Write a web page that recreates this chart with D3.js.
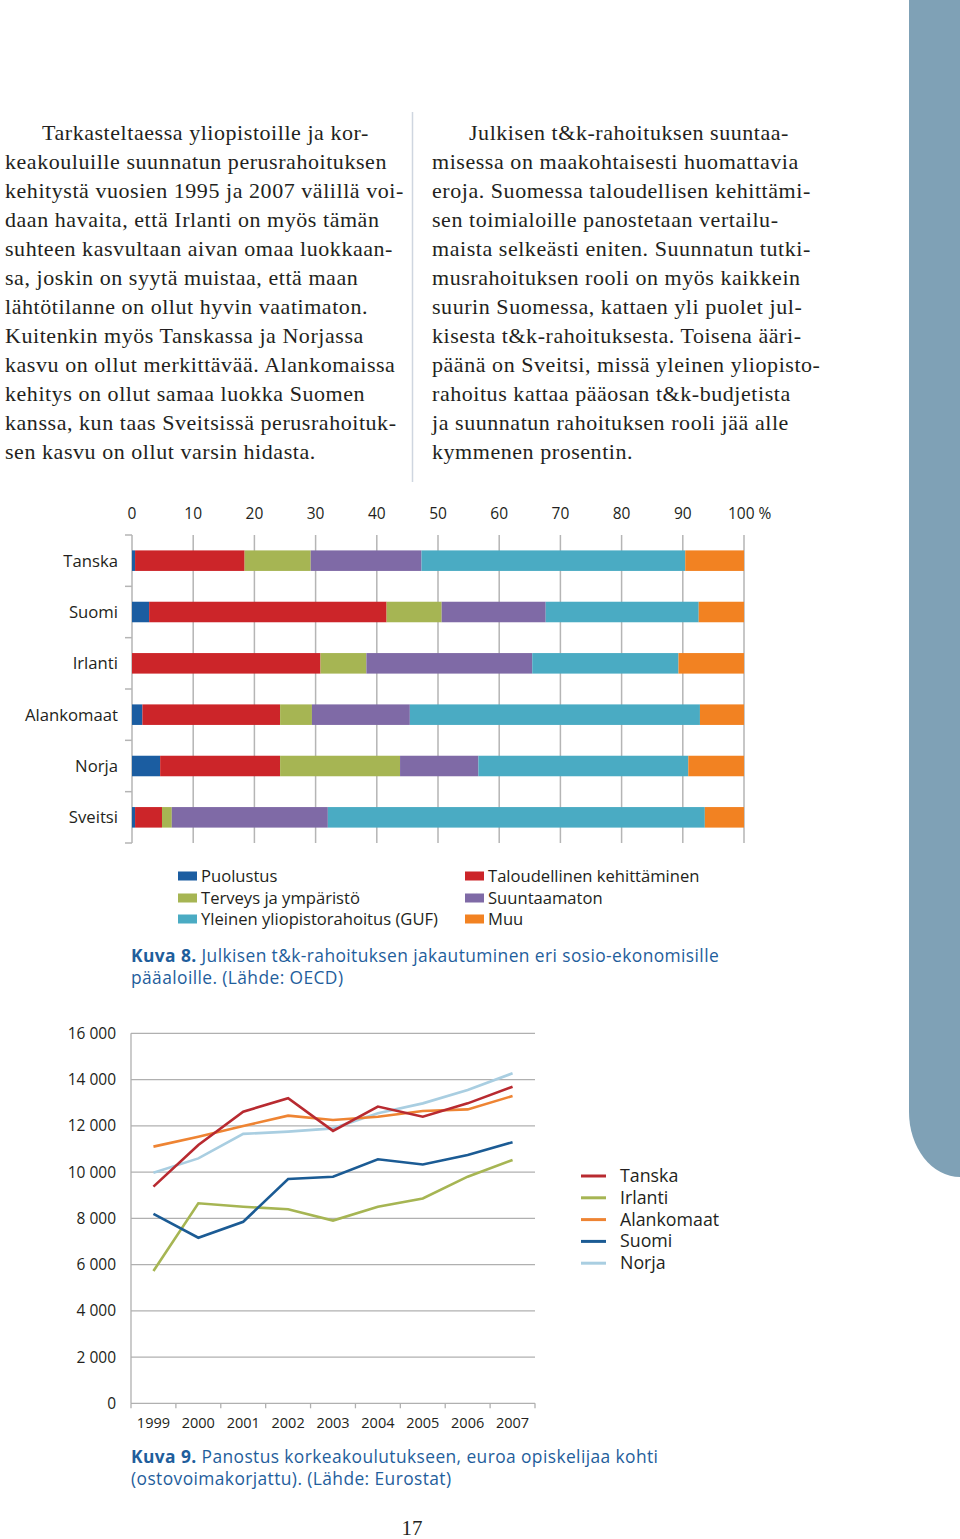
<!DOCTYPE html>
<html><head><meta charset="utf-8">
<script src="https://cdn.jsdelivr.net/npm/d3@7"></script>
<style>
html,body{margin:0;padding:0;background:#fff;}
svg{display:block;}
</style></head>
<body>
<svg id="c" width="960" height="1539"></svg>
<script>
// ---------- DATA ----------
const leftText = [
"Tarkasteltaessa yliopistoille ja kor-",
"keakouluille suunnatun perusrahoituksen",
"kehitystä vuosien 1995 ja 2007 välillä voi-",
"daan havaita, että Irlanti on myös tämän",
"suhteen kasvultaan aivan omaa luokkaan-",
"sa, joskin on syytä muistaa, että maan",
"lähtötilanne on ollut hyvin vaatimaton.",
"Kuitenkin myös Tanskassa ja Norjassa",
"kasvu on ollut merkittävää. Alankomaissa",
"kehitys on ollut samaa luokka Suomen",
"kanssa, kun taas Sveitsissä perusrahoituk-",
"sen kasvu on ollut varsin hidasta."];
const rightText = [
"Julkisen t&k-rahoituksen suuntaa-",
"misessa on maakohtaisesti huomattavia",
"eroja. Suomessa taloudellisen kehittämi-",
"sen toimialoille panostetaan vertailu-",
"maista selkeästi eniten. Suunnatun tutki-",
"musrahoituksen rooli on myös kaikkein",
"suurin Suomessa, kattaen yli puolet jul-",
"kisesta t&k-rahoituksesta. Toisena ääri-",
"päänä on Sveitsi, missä yleinen yliopisto-",
"rahoitus kattaa pääosan t&k-budjetista",
"ja suunnatun rahoituksen rooli jää alle",
"kymmenen prosentin."];

// Bar chart (Kuva 8)
const barCountries = ["Tanska","Suomi","Irlanti","Alankomaat","Norja","Sveitsi"];
const barSeriesNames = ["Puolustus","Taloudellinen kehittäminen","Terveys ja ympäristö","Suuntaamaton","Yleinen yliopistorahoitus (GUF)","Muu"];
const puolustus     = [0.5, 2.8, 0.0, 1.7, 4.6, 0.5];
const taloudellinen = [17.9, 38.8, 30.8, 22.5, 19.6, 4.4];
const terveys       = [10.8, 9.0, 7.5, 5.2, 19.6, 1.6];
const suuntaamaton  = [18.1, 17.0, 27.1, 16.0, 12.8, 25.5];
const guf           = [43.1, 25.0, 23.9, 47.4, 34.3, 61.6];
const muu           = [9.6, 7.4, 10.7, 7.2, 9.1, 6.4];
const barTicks = [0,10,20,30,40,50,60,70,80,90,100];
const barColors = ["#1b5da1","#cc2529","#a6b553","#7f6aa6","#4aabc3","#f28222"];

// Line chart (Kuva 9)
const years = ["1999","2000","2001","2002","2003","2004","2005","2006","2007"];
const lineNames = ["Tanska","Irlanti","Alankomaat","Suomi","Norja"];
const tanskaVals     = [9370, 11170, 12610, 13190, 11780, 12830, 12390, 12970, 13690];
const irlantiVals    = [5720, 8650, 8500, 8390, 7900, 8500, 8860, 9800, 10520];
const alankomaatVals = [11100, 11530, 11990, 12440, 12250, 12390, 12640, 12710, 13290];
const suomiVals      = [8190, 7160, 7850, 9700, 9800, 10550, 10330, 10740, 11290];
const norjaVals      = [9970, 10590, 11650, 11750, 11890, 12540, 12970, 13550, 14270];
const lineTicks = [0,2000,4000,6000,8000,10000,12000,14000,16000];
const lineColors = ["#b82a30","#a6b553","#ee8433","#1b5b94","#a9cee1"];

// ---------- DRAW ----------
const svg = d3.select("#c");
const sans = "'Open Sans', sans-serif";
const serif = "'Liberation Serif', 'Times New Roman', serif";
const ink = "#231f20";

// side stripe
svg.append("path")
  .attr("d","M909,0 V1112 A51,65 0 0 0 960,1177 V0 Z")
  .attr("fill","#7fa1b6");

// body text
function para(lines, x0, indent){
  svg.append("g").selectAll("text").data(lines).join("text")
    .attr("x",(d,i)=> i===0 ? x0+indent : x0)
    .attr("y",(d,i)=> 140 + i*29)
    .attr("font-family",serif).attr("font-size",22).attr("letter-spacing",0.55).attr("fill",ink)
    .text(d=>d);
}
para(leftText, 5, 37);
para(rightText, 432, 37);
svg.append("line").attr("x1",412.5).attr("x2",412.5).attr("y1",112).attr("y2",482)
  .attr("stroke","#cfd6e0").attr("stroke-width",1.5);

// ---- bar chart ----
const bx = d3.scaleLinear().domain([0,100]).range([132,744]);
const by = d3.scaleBand().domain(barCountries).range([535,843]).paddingInner(0.6).paddingOuter(0.3);
const barRows = barCountries.map((c,i)=>({country:c, s0:puolustus[i], s1:taloudellinen[i], s2:terveys[i], s3:suuntaamaton[i], s4:guf[i], s5:muu[i]}));
const stack = d3.stack().keys(["s0","s1","s2","s3","s4","s5"]);
const stacked = stack(barRows);

const gb = svg.append("g");
gb.selectAll("line.grid").data(barTicks).join("line")
  .attr("x1",d=>bx(d)).attr("x2",d=>bx(d)).attr("y1",535).attr("y2",843)
  .attr("stroke","#b5b5b5").attr("stroke-width",1.5);
const bnd = d3.range(barCountries.length+1).map(i=>by.range()[0]+i*by.step());
gb.selectAll("line.ct").data(bnd).join("line")
  .attr("x1",125).attr("x2",bx(0)).attr("y1",d=>d).attr("y2",d=>d)
  .attr("stroke","#b5b5b5").attr("stroke-width",1.5);
gb.selectAll("text.tk").data(barTicks).join("text")
  .attr("x",d=>bx(d)).attr("y",519).attr("text-anchor","middle")
  .attr("font-family",sans).attr("font-size",15.5).attr("fill",ink)
  .text(d=> d===100 ? "" : d);
gb.append("text").attr("x",bx(100)-16).attr("y",519)
  .attr("font-family",sans).attr("font-size",15.5).attr("fill",ink).text("100 %");
stacked.forEach((layer,k)=>{
  gb.append("g").selectAll("rect").data(layer).join("rect")
    .attr("x",d=>bx(d[0])).attr("width",d=>bx(d[1])-bx(d[0]))
    .attr("y",d=>by(d.data.country)).attr("height",by.bandwidth())
    .attr("fill",barColors[k]);
});
gb.selectAll("text.cat").data(barCountries).join("text")
  .attr("x",118).attr("y",d=>by(d)+by.bandwidth()/2+6).attr("text-anchor","end")
  .attr("font-family",sans).attr("font-size",16.7).attr("fill",ink).text(d=>d);
const legOrder = [[0,178,876],[2,178,898],[4,178,919],[1,465,876],[3,465,898],[5,465,919]];
legOrder.forEach(([k,x,y])=>{
  gb.append("rect").attr("x",x).attr("y",y-4.5).attr("width",19).attr("height",9).attr("fill",barColors[k]);
  gb.append("text").attr("x",x+23).attr("y",y+6).attr("font-family",sans).attr("font-size",16.6)
    .attr("fill",ink).text(barSeriesNames[k]);
});
function caption(y, bold, rest1, rest2){
  const t = svg.append("text").attr("x",131).attr("y",y).attr("font-family",sans).attr("font-size",17.4)
    .attr("letter-spacing",0.4).attr("fill","#1f5e9c");
  t.append("tspan").attr("font-weight","bold").text(bold);
  t.append("tspan").text(rest1);
  svg.append("text").attr("x",131).attr("y",y+22).attr("font-family",sans).attr("font-size",17.4)
    .attr("letter-spacing",0.4).attr("fill","#1f5e9c").text(rest2);
}
caption(962,"Kuva 8."," Julkisen t&k-rahoituksen jakautuminen eri sosio-ekonomisille","pääaloille. (Lähde: OECD)");

// ---- line chart ----
const lx = d3.scaleBand().domain(years).range([131,535]);
const ly = d3.scaleLinear().domain([0,16000]).range([1403.3,1033.3]);
const gl = svg.append("g");
gl.selectAll("line.g").data(lineTicks).join("line")
  .attr("x1",131).attr("x2",535).attr("y1",d=>ly(d)).attr("y2",d=>ly(d))
  .attr("stroke","#b0b0b0").attr("stroke-width",1.3);
gl.append("line").attr("x1",131).attr("x2",131).attr("y1",ly(16000)).attr("y2",ly(0))
  .attr("stroke","#b0b0b0").attr("stroke-width",1.3);
const xb = d3.range(years.length+1).map(i=>131+i*lx.step());
gl.selectAll("line.xt").data(xb).join("line")
  .attr("x1",d=>d).attr("x2",d=>d).attr("y1",ly(0)).attr("y2",ly(0)+5)
  .attr("stroke","#b0b0b0").attr("stroke-width",1.3);
const fmt = v => d3.format(",")(v).replace(/,/g," ");
gl.selectAll("text.yt").data(lineTicks).join("text")
  .attr("x",116).attr("y",d=>ly(d)+5.5).attr("text-anchor","end")
  .attr("font-family",sans).attr("font-size",15.5).attr("fill",ink).text(d=>fmt(d));
gl.selectAll("text.xl").data(years).join("text")
  .attr("x",d=>lx(d)+lx.bandwidth()/2).attr("y",1428).attr("text-anchor","middle")
  .attr("font-family",sans).attr("font-size",14.5).attr("fill",ink).text(d=>d);
const series = [tanskaVals, irlantiVals, alankomaatVals, suomiVals, norjaVals];
const line = d3.line().x((d,i)=>lx(years[i])+lx.bandwidth()/2).y(d=>ly(d));
[4,1,2,3,0].forEach(k=>{
  gl.append("path").attr("d",line(series[k])).attr("fill","none")
    .attr("stroke",lineColors[k]).attr("stroke-width",2.6).attr("stroke-linejoin","miter");
});
lineNames.forEach((n,k)=>{
  const y = 1176 + k*21.8;
  gl.append("line").attr("x1",581).attr("x2",606).attr("y1",y).attr("y2",y)
    .attr("stroke",lineColors[k]).attr("stroke-width",3);
  gl.append("text").attr("x",620).attr("y",y+6).attr("font-family",sans).attr("font-size",17.8)
    .attr("fill",ink).text(n);
});
caption(1463,"Kuva 9."," Panostus korkeakoulutukseen, euroa opiskelijaa kohti","(ostovoimakorjattu). (Lähde: Eurostat)");

svg.append("text").attr("x",412).attr("y",1535).attr("text-anchor","middle")
  .attr("font-family",serif).attr("font-size",21).attr("fill",ink).text("17");
</script>
</body></html>
